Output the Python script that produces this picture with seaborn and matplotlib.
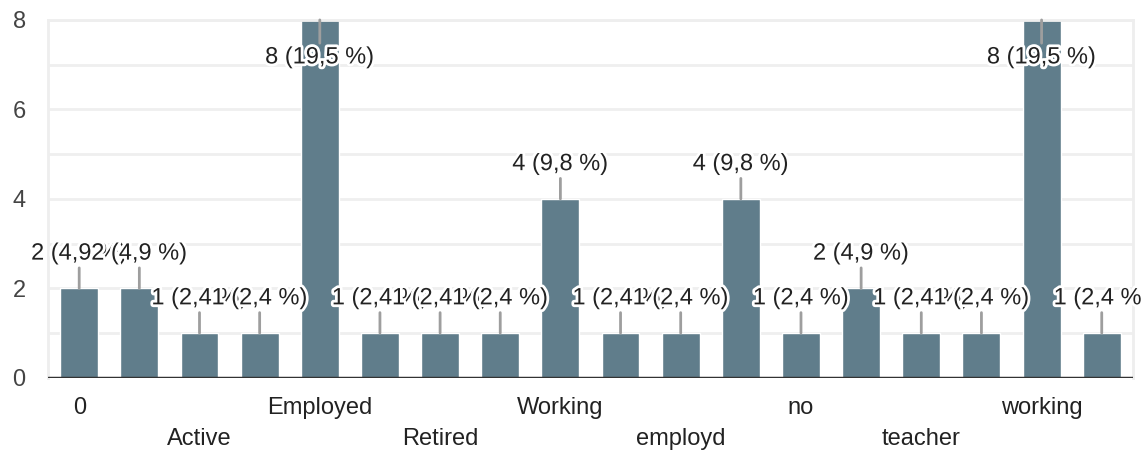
import matplotlib
matplotlib.use('Agg')
import matplotlib.pyplot as plt
import matplotlib.patheffects as pe
import seaborn as sns

# DADOS - rótulos ímpares não aparecem na imagem
categorias = ['0', '', 'Active', '', 'Employed', '', 'Retired', '', 'Working', '',
              'employd', '', 'no', '', 'teacher', '', 'working', '']
valores = [2, 2, 1, 1, 8, 1, 1, 1, 4, 1, 1, 4, 1, 2, 1, 1, 8, 1]
y_ticks = [0, 2, 4, 6, 8]

total = sum(valores)
posicoes = list(range(len(valores)))

sns.set_theme(style='white')
plt.rcParams['font.family'] = ['Liberation Sans', 'DejaVu Sans']

fig = plt.figure(figsize=(11.41, 4.53), dpi=100)
ax = fig.add_axes([0.042, 0.166, 0.951, 0.790])

sns.barplot(x=posicoes, y=valores, order=posicoes, color='#607d8b', saturation=1,
            width=0.63, ax=ax, zorder=2)

ax.set_ylim(0, 8)
ax.set_xlim(-0.52, len(valores) - 0.48)

# grade horizontal em cada unidade
ax.set_yticks(y_ticks)
ax.set_yticks(range(0, 9), minor=True)
ax.grid(axis='y', which='both', color='#efefef', linewidth=2)
ax.set_axisbelow(True)
ax.tick_params(axis='y', which='both', length=0, pad=16, labelsize=17, labelcolor='#444444')

for lado in ['left', 'right', 'top']:
    ax.spines[lado].set_color('#eeeeee')
    ax.spines[lado].set_linewidth(2)
ax.spines['bottom'].set_visible(False)
ax.axhline(0, color='#333333', linewidth=2.5, zorder=3)

# rótulos do eixo x em duas linhas alternadas
pares = posicoes[::2]
ax.set_xticks(pares)
ax.set_xticklabels([categorias[i] for i in pares], fontsize=17, color='#222222')
ax.tick_params(axis='x', length=0)
for k, tick in enumerate(ax.xaxis.get_major_ticks()):
    tick.set_pad(13.5 if k % 2 == 0 else 36.5)
ax.set_xlabel('')
ax.set_ylabel('')

# anotações com linha guia
for x, v in zip(posicoes, valores):
    pct = f'{v / total * 100:.1f}'.replace('.', ',')
    dy = -27 if v >= 8 else 25
    ax.annotate(f'{v} ({pct} %)', xy=(x, v), xytext=(0, dy), textcoords='offset points',
                ha='center', va='center', fontsize=17, color='#222222', zorder=5,
                annotation_clip=False,
                arrowprops=dict(arrowstyle='-', color='#9e9e9e', lw=2, shrinkA=0, shrinkB=0),
                path_effects=[pe.withStroke(linewidth=4, foreground='white')])

plt.savefig('out.png', dpi=100)
